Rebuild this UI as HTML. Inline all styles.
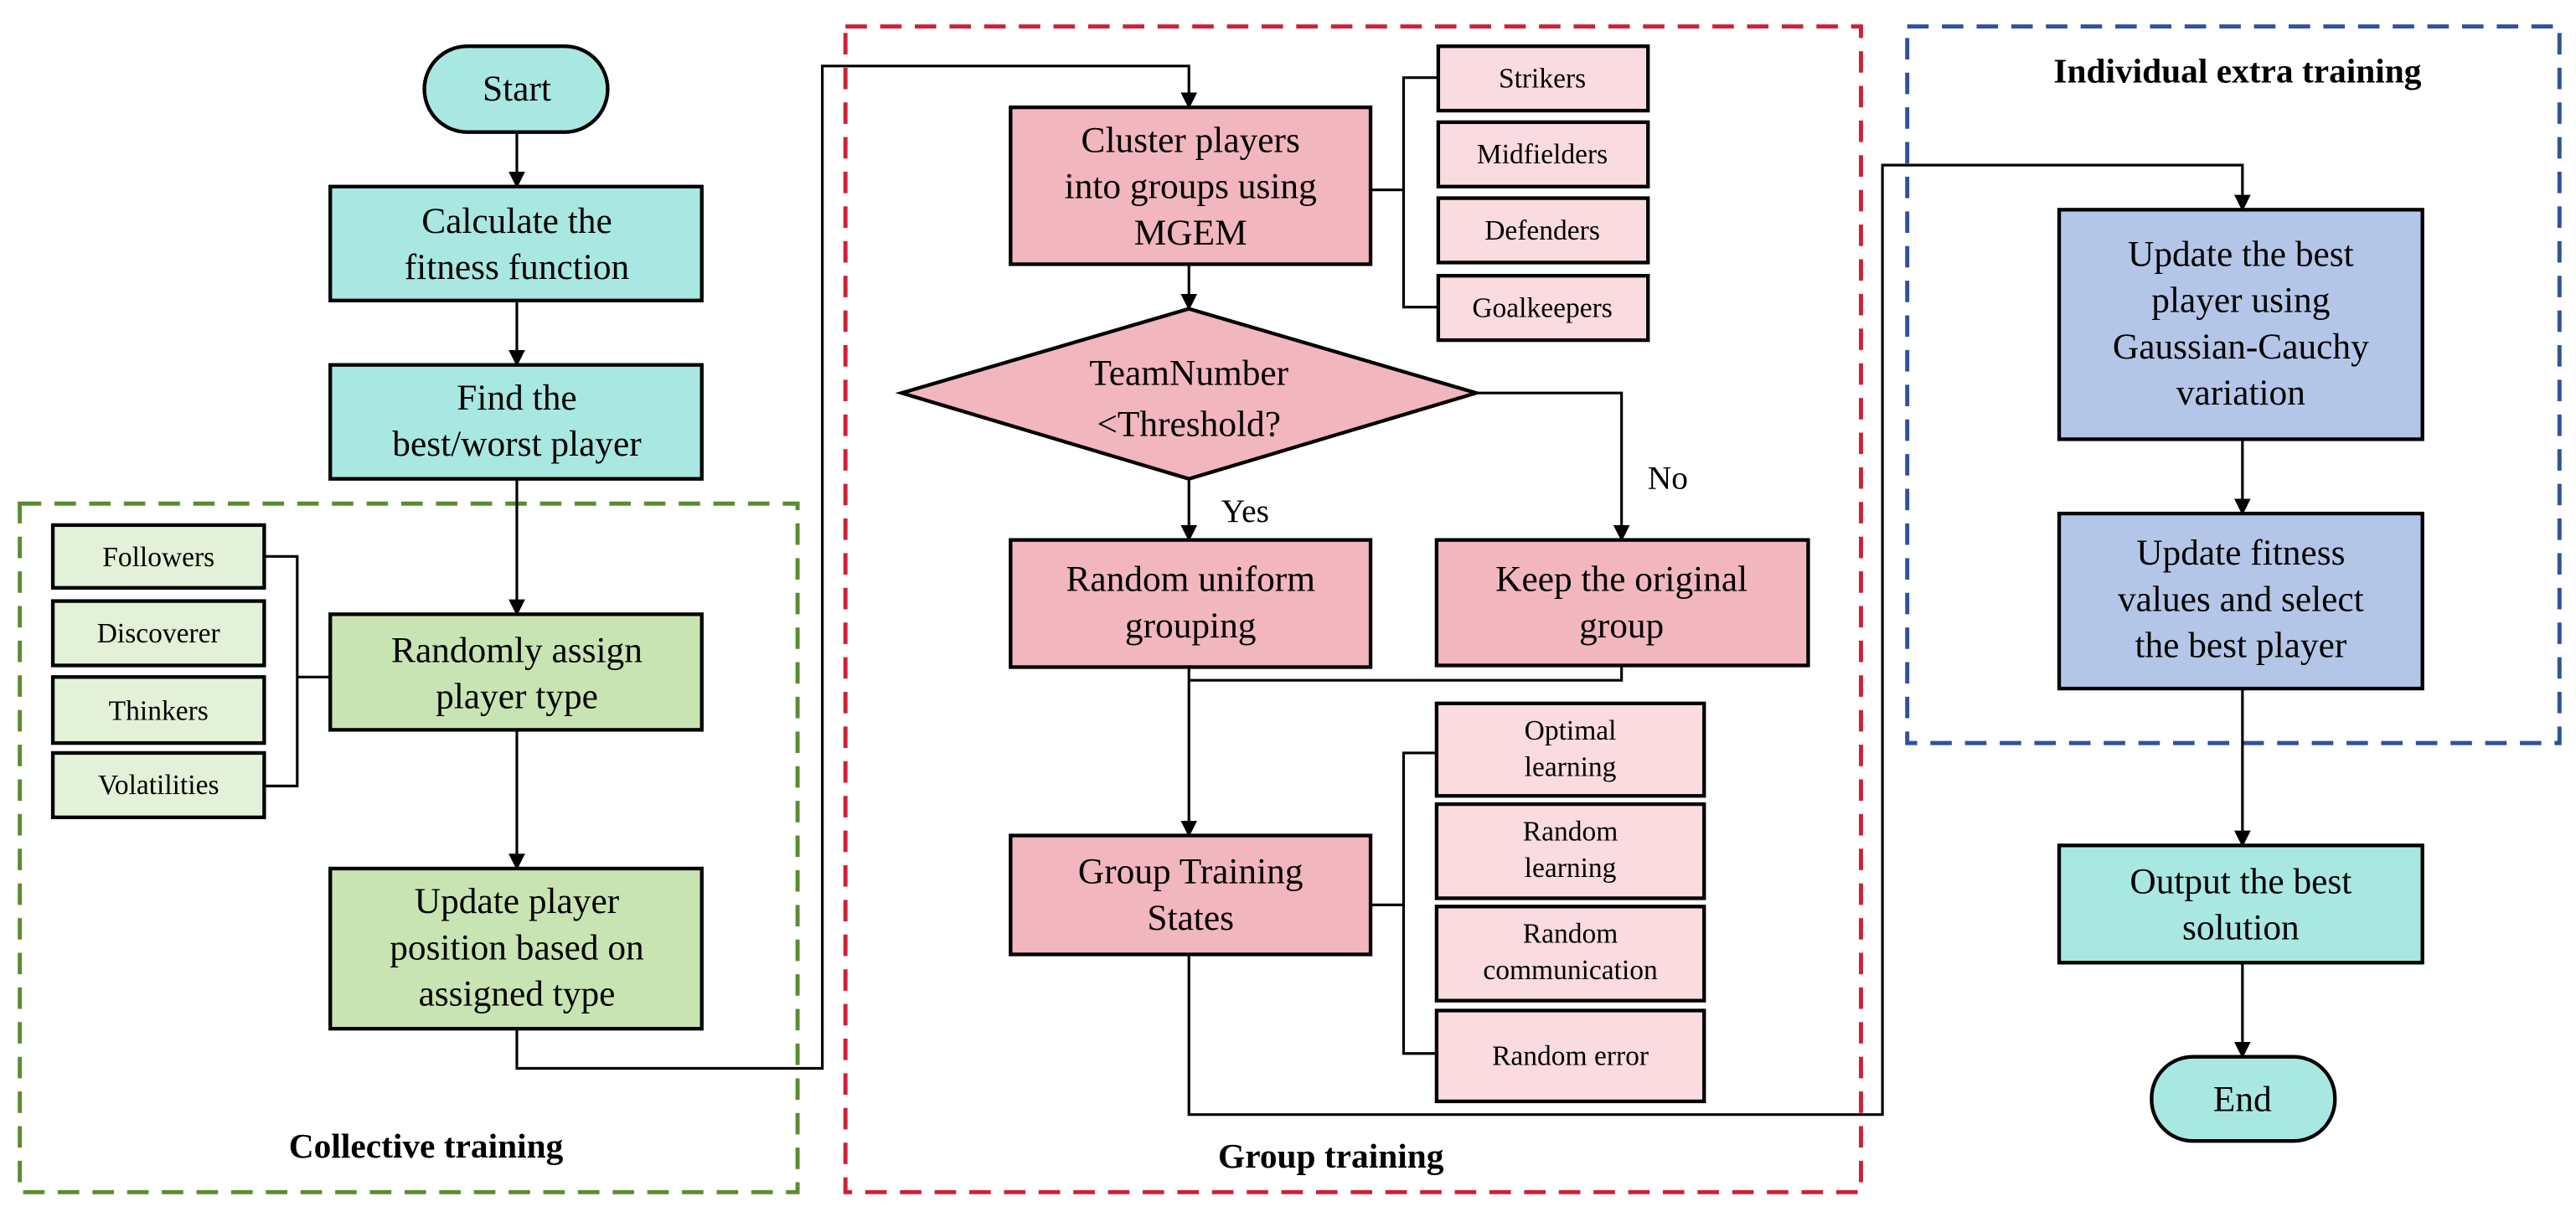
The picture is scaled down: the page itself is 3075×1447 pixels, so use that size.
<!DOCTYPE html>
<html><head><meta charset="utf-8"><style>html,body{margin:0;padding:0;background:#fff}svg{display:block}text{font-family:"Liberation Serif",serif;fill:#000}</style></head><body>
<svg width="3075" height="1447" viewBox="0 0 1560 734" preserveAspectRatio="none" xmlns="http://www.w3.org/2000/svg">
<defs><marker id="a" markerWidth="10" markerHeight="10" refX="9" refY="5" orient="auto" markerUnits="userSpaceOnUse"><path d="M0,0 L10,5 L0,10 z" fill="#000"/></marker></defs>
<rect x="12" y="305" width="471" height="417" fill="none" stroke="#5b8c2f" stroke-width="2.5" stroke-dasharray="13,8"/>
<rect x="512" y="16" width="615" height="706" fill="none" stroke="#cf2038" stroke-width="2.5" stroke-dasharray="13,8"/>
<rect x="1155" y="16" width="395" height="434" fill="none" stroke="#2f519f" stroke-width="2.5" stroke-dasharray="13,8"/>
<g stroke="#000" stroke-width="1.6" fill="none">
<path d="M313 80 V113" marker-end="url(#a)"/>
<path d="M313 182 V221" marker-end="url(#a)"/>
<path d="M313 290 V372" marker-end="url(#a)"/>
<path d="M313 442 V526" marker-end="url(#a)"/>
<path d="M313 623 V647 H498 V40 H720 V65" marker-end="url(#a)"/>
<path d="M160 337 H180 V476 H160 M180 410 H200"/>
<path d="M720 160 V187" marker-end="url(#a)"/>
<path d="M871 47 H850 V186 H871 M830 115 H850"/>
<path d="M720 290 V327" marker-end="url(#a)"/>
<path d="M894 238 H982 V327" marker-end="url(#a)"/>
<path d="M982 403 V412 H720"/>
<path d="M720 404 V506" marker-end="url(#a)"/>
<path d="M870 456 H850 V638 H870 M830 548 H850"/>
<path d="M720 578 V675 H1140 V100 H1358 V127" marker-end="url(#a)"/>
<path d="M1358 266 V311" marker-end="url(#a)"/>
<path d="M1358 417 V512" marker-end="url(#a)"/>
<path d="M1358 583 V640" marker-end="url(#a)"/>
</g>
<g stroke="#000" stroke-width="2.2">
<rect x="257" y="28" width="111" height="52" rx="26" fill="#a9e8e2"/>
<rect x="200" y="113" width="225" height="69" fill="#a9e8e2"/>
<rect x="200" y="221" width="225" height="69" fill="#a9e8e2"/>
<rect x="200" y="372" width="225" height="70" fill="#c8e4b3"/>
<rect x="200" y="526" width="225" height="97" fill="#c8e4b3"/>
<rect x="32" y="318" width="128" height="38" fill="#e3f1d8"/>
<rect x="32" y="364" width="128" height="39" fill="#e3f1d8"/>
<rect x="32" y="410" width="128" height="40" fill="#e3f1d8"/>
<rect x="32" y="456" width="128" height="39" fill="#e3f1d8"/>
<rect x="612" y="65" width="218" height="95" fill="#f2b6be"/>
<rect x="871" y="28" width="127" height="39" fill="#f9dbe0"/>
<rect x="871" y="74" width="127" height="39" fill="#f9dbe0"/>
<rect x="871" y="120" width="127" height="39" fill="#f9dbe0"/>
<rect x="871" y="167" width="127" height="39" fill="#f9dbe0"/>
<path d="M546 238 L720 187 L894 238 L720 290 Z" fill="#f2b6be"/>
<rect x="612" y="327" width="218" height="77" fill="#f2b6be"/>
<rect x="870" y="327" width="225" height="76" fill="#f2b6be"/>
<rect x="612" y="506" width="218" height="72" fill="#f2b6be"/>
<rect x="870" y="426" width="162" height="56" fill="#f9dbe0"/>
<rect x="870" y="487" width="162" height="57" fill="#f9dbe0"/>
<rect x="870" y="549" width="162" height="57" fill="#f9dbe0"/>
<rect x="870" y="612" width="162" height="55" fill="#f9dbe0"/>
<rect x="1247" y="127" width="220" height="139" fill="#b4c6e8"/>
<rect x="1247" y="311" width="220" height="106" fill="#b4c6e8"/>
<rect x="1247" y="512" width="220" height="71" fill="#a9e8e2"/>
<rect x="1303" y="640" width="111" height="51" rx="25" fill="#a9e8e2"/>
</g>
<g font-size="22" text-anchor="middle">
<text x="313" y="61">Start</text>
<text x="313" y="141">Calculate the</text><text x="313" y="169">fitness function</text>
<text x="313" y="248">Find the</text><text x="313" y="276">best/worst player</text>
<text x="313" y="401">Randomly assign</text><text x="313" y="429">player type</text>
<text x="313" y="553">Update player</text><text x="313" y="581">position based on</text><text x="313" y="609">assigned type</text>
<text x="721" y="92">Cluster players</text><text x="721" y="120">into groups using</text><text x="721" y="148">MGEM</text>
<text x="720" y="233">TeamNumber</text><text x="720" y="264">&lt;Threshold?</text>
<text x="721" y="358">Random uniform</text><text x="721" y="386">grouping</text>
<text x="982" y="358">Keep the original</text><text x="982" y="386">group</text>
<text x="721" y="535">Group Training</text><text x="721" y="563">States</text>
<text x="1357" y="161">Update the best</text><text x="1357" y="189">player using</text><text x="1357" y="217">Gaussian-Cauchy</text><text x="1357" y="245">variation</text>
<text x="1357" y="342">Update fitness</text><text x="1357" y="370">values and select</text><text x="1357" y="398">the best player</text>
<text x="1357" y="541">Output the best</text><text x="1357" y="569">solution</text>
<text x="1358" y="673">End</text>
<text x="754" y="316" font-size="20">Yes</text>
<text x="1010" y="296" font-size="20">No</text>
</g>
<g font-size="17" text-anchor="middle">
<text x="96" y="343">Followers</text>
<text x="96" y="389">Discoverer</text>
<text x="96" y="436">Thinkers</text>
<text x="96" y="481">Volatilities</text>
<text x="934" y="53">Strikers</text>
<text x="934" y="99">Midfielders</text>
<text x="934" y="145">Defenders</text>
<text x="934" y="192">Goalkeepers</text>
<text x="951" y="448">Optimal</text><text x="951" y="470">learning</text>
<text x="951" y="509">Random</text><text x="951" y="531">learning</text>
<text x="951" y="571">Random</text><text x="951" y="593">communication</text>
<text x="951" y="645">Random error</text>
</g>
<g font-size="21" font-weight="bold" text-anchor="middle">
<text x="258" y="701">Collective training</text>
<text x="806" y="707">Group training</text>
<text x="1355" y="50">Individual extra training</text>
</g>
</svg>
</body></html>
